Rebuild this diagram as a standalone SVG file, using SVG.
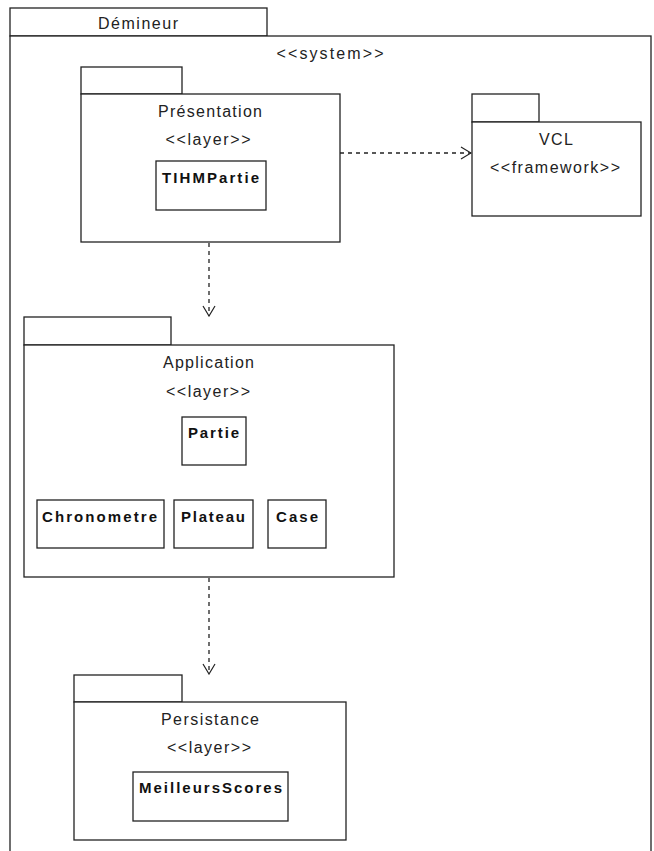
<svg xmlns="http://www.w3.org/2000/svg" width="654" height="851" viewBox="0 0 654 851">
<defs>
<style>
.b{fill:#fff;stroke:#222;stroke-width:1.3}
.t{font-family:"Liberation Sans",Arial,sans-serif;font-size:16px;fill:#222;text-anchor:middle}
.c{font-family:"Liberation Sans",Arial,sans-serif;font-size:15px;font-weight:bold;fill:#111;text-anchor:middle}
.d{fill:none;stroke:#222;stroke-width:1.3;stroke-dasharray:4 4}
</style>
<marker id="arr" viewBox="0 0 12 14" refX="11" refY="7" markerWidth="12" markerHeight="14" markerUnits="userSpaceOnUse" orient="auto">
<path d="M1,1 L11,7 L1,13" fill="none" stroke="#222" stroke-width="1.2"/>
</marker>
</defs>
<rect width="654" height="851" fill="#fff"/>
<g id="demineur">
<rect class="b" x="10" y="8" width="257" height="28"/>
<rect class="b" x="10" y="36" width="641" height="830"/>
<text class="t" x="138" y="29" textLength="80" lengthAdjust="spacing">Démineur</text>
<text class="t" x="330" y="59" textLength="107" lengthAdjust="spacing">&lt;&lt;system&gt;&gt;</text>
</g>
<g id="connectors">
<line class="d" x1="340" y1="153" x2="471" y2="153" marker-end="url(#arr)"/>
<line class="d" x1="209" y1="243" x2="209" y2="316" marker-end="url(#arr)"/>
<line class="d" x1="209" y1="578" x2="209" y2="674" marker-end="url(#arr)"/>
</g>
<g id="presentation">
<rect class="b" x="81" y="67" width="101" height="27"/>
<rect class="b" x="81" y="94" width="259" height="148"/>
<text class="t" x="210" y="117" textLength="104" lengthAdjust="spacing">Présentation</text>
<text class="t" x="208" y="145" textLength="85" lengthAdjust="spacing">&lt;&lt;layer&gt;&gt;</text>
</g>
<g id="tihmpartie">
<rect class="b" x="156" y="161" width="110" height="49"/>
<text class="c" x="210.5" y="183" textLength="97" lengthAdjust="spacing">TIHMPartie</text>
</g>
<g id="vcl">
<rect class="b" x="472" y="94" width="67" height="28"/>
<rect class="b" x="472" y="122" width="169" height="94"/>
<text class="t" x="556" y="145" textLength="34" lengthAdjust="spacing">VCL</text>
<text class="t" x="555" y="173" textLength="130" lengthAdjust="spacing">&lt;&lt;framework&gt;&gt;</text>
</g>
<g id="application">
<rect class="b" x="24" y="317" width="147" height="28"/>
<rect class="b" x="24" y="345" width="370" height="232"/>
<text class="t" x="208.5" y="368" textLength="91" lengthAdjust="spacing">Application</text>
<text class="t" x="208" y="397" textLength="84" lengthAdjust="spacing">&lt;&lt;layer&gt;&gt;</text>
</g>
<g id="partie">
<rect class="b" x="182" y="417" width="64" height="48"/>
<text class="c" x="213.5" y="438" textLength="51" lengthAdjust="spacing">Partie</text>
</g>
<g id="chronometre">
<rect class="b" x="37" y="500" width="127" height="48"/>
<text class="c" x="99.5" y="522" textLength="115" lengthAdjust="spacing">Chronometre</text>
</g>
<g id="plateau">
<rect class="b" x="174" y="500" width="79" height="48"/>
<text class="c" x="213" y="522" textLength="64" lengthAdjust="spacing">Plateau</text>
</g>
<g id="case">
<rect class="b" x="268" y="500" width="58" height="48"/>
<text class="c" x="297" y="522" textLength="42" lengthAdjust="spacing">Case</text>
</g>
<g id="persistance">
<rect class="b" x="74" y="675" width="108" height="27"/>
<rect class="b" x="74" y="702" width="272" height="138"/>
<text class="t" x="210" y="725" textLength="98" lengthAdjust="spacing">Persistance</text>
<text class="t" x="209" y="753" textLength="84" lengthAdjust="spacing">&lt;&lt;layer&gt;&gt;</text>
</g>
<g id="meilleursscores">
<rect class="b" x="133" y="772" width="155" height="49"/>
<text class="c" x="210.5" y="793" textLength="143" lengthAdjust="spacing">MeilleursScores</text>
</g>
</svg>
